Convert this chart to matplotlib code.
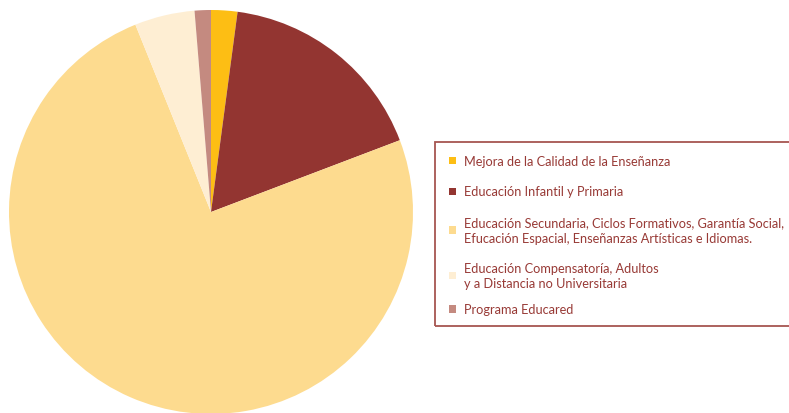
import matplotlib
import matplotlib.pyplot as plt
from matplotlib.patches import Rectangle

matplotlib.use("Agg")

# Share of budget per programme (percent)
labels = [
    "Mejora de la Calidad de la Enseñanza",
    "Educación Infantil y Primaria",
    "Educación Secundaria, Ciclos Formativos, Garantía Social,\nEfucación Espacial, Enseñanzas Artísticas e Idiomas.",
    "Educación Compensatoría, Adultos\ny a Distancia no Universitaria",
    "Programa Educared",
]
values = [2.1, 17.1, 74.6, 4.8, 1.3]
colors = ["#FDBE14", "#933531", "#FDDB8F", "#FEEED3", "#C48A80"]

W, H = 789, 414
text_color = "#983A36"
border_color = "#A65550"

fig = plt.figure(figsize=(W / 100, H / 100), dpi=100)
ax = fig.add_axes([0, 0, 1, 1])
ax.pie(values, colors=colors, startangle=90, counterclock=False,
       center=(211, H - 213), radius=202,
       wedgeprops=dict(linewidth=0))
ax.set_xlim(0, W)
ax.set_ylim(0, H)
ax.set_aspect("equal")
ax.axis("off")

# legend box, drawn by hand in pixel space
ax.add_patch(Rectangle((435, H - 326.5), 400, 184, fill=False,
                       edgecolor=border_color, linewidth=1.3, clip_on=True))

rows = [161.5, 192.5, 231, 276.5, 310]
for lab, col, y in zip(labels, colors, rows):
    ax.add_patch(Rectangle((449, H - y - 3.5), 7.5, 7.5, facecolor=col, edgecolor="none"))
    ax.text(464, H - y, lab, color=text_color, fontsize=9.2, family="Lato",
            va="center", ha="left", linespacing=1.35)

fig.savefig("out.png", dpi=100)
